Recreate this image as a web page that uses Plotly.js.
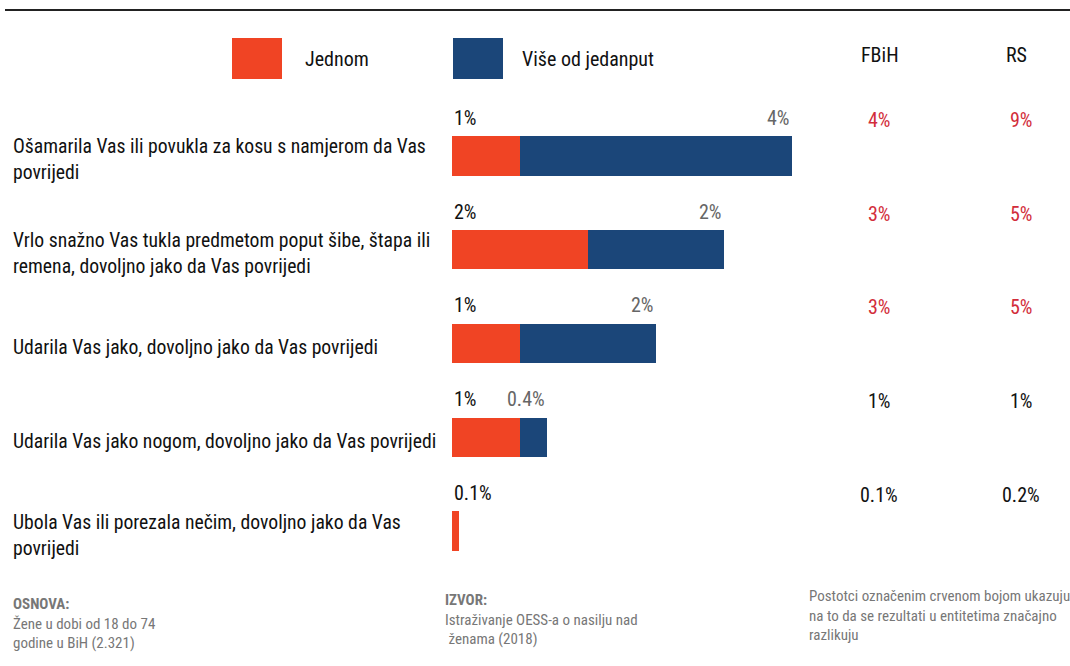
<!DOCTYPE html>
<html>
<head>
<meta charset="utf-8">
<script src="https://cdn.plot.ly/plotly-3.0.1.min.js"></script>
<style>
html,body{margin:0;padding:0;background:#fff;}
#chart{width:1070px;height:666px;}
</style>
</head>
<body>
<div id="chart"></div>
<script>
// ---- data ----
var categories = [
  "Ošamarila Vas ili povukla za kosu s namjerom da Vas<br>povrijedi",
  "Vrlo snažno Vas tukla predmetom poput šibe, štapa ili<br>remena, dovoljno jako da Vas povrijedi",
  "Udarila Vas jako, dovoljno jako da Vas povrijedi",
  "Udarila Vas jako nogom, dovoljno jako da Vas povrijedi",
  "Ubola Vas ili porezala nečim, dovoljno jako da Vas<br>povrijedi"
];
var jednom = [1, 2, 1, 1, 0.1];
var viseOdJednom = [4, 2, 2, 0.4, 0];
var jednomLabels = ["1%", "2%", "1%", "1%", "0.1%"];
var viseLabels = ["4%", "2%", "2%", "0.4%", ""];
var fbih = ["4%", "3%", "3%", "1%", "0.1%"];
var rs = ["9%", "5%", "5%", "1%", "0.2%"];
var significant = [true, true, true, false, false];
var seriesNames = ["Jednom", "Više od jedanput"];
var colHeaders = ["FBiH", "RS"];

// ---- layout helpers (pixel -> paper) ----
var W = 1070, H = 666;
var mL = 452, mR = 210, mT = 109, mB = 83;
var pw = W - mL - mR, ph = H - mT - mB;
function px(x){ return (x - mL) / pw; }
function py(y){ return (H - mB - y) / ph; }

var FONT = "'Roboto Condensed', 'Liberation Sans Narrow', 'DejaVu Sans Condensed', 'Roboto', sans-serif";
var ORANGE = "#f04424", BLUE = "#1b4679", RED = "#d22d3a";
var ids = categories.map(function(c, i){ return "c" + i; });

var traces = [
  {type: "bar", orientation: "h", y: ids, x: jednom, name: seriesNames[0],
   marker: {color: ORANGE}, width: 0.42, hoverinfo: "skip"},
  {type: "bar", orientation: "h", y: ids, x: viseOdJednom, name: seriesNames[1],
   marker: {color: BLUE}, width: 0.42, hoverinfo: "skip"}
];

var annotations = [];
var shapes = [];
categories.forEach(function(c, i){
  annotations.push({xref: "paper", yref: "y", x: px(11), y: ids[i], text: c,
    xanchor: "left", yanchor: "middle", align: "left", showarrow: false, yshift: -4,
    font: {family: FONT, size: 19.7, color: "#111"}});
  annotations.push({xref: "x", yref: "y", x: 0, y: ids[i], text: jednomLabels[i],
    xanchor: "left", yanchor: "middle", showarrow: false, yshift: 38,
    font: {family: FONT, size: 20, color: "#111"}});
  if (viseLabels[i]) {
    annotations.push({xref: "x", yref: "y", x: jednom[i] + viseOdJednom[i], y: ids[i], text: viseLabels[i],
      xanchor: "right", yanchor: "middle", showarrow: false, yshift: 38,
      font: {family: FONT, size: 20, color: "#666"}});
  }
  annotations.push({xref: "paper", yref: "y", x: px(879), y: ids[i], text: fbih[i],
    xanchor: "center", yanchor: "middle", showarrow: false, yshift: 36,
    font: {family: FONT, size: 20, color: significant[i] ? RED : "#111"}});
  annotations.push({xref: "paper", yref: "y", x: px(1021), y: ids[i], text: rs[i],
    xanchor: "center", yanchor: "middle", showarrow: false, yshift: 36,
    font: {family: FONT, size: 20, color: significant[i] ? RED : "#111"}});
});

// header row: legend + column titles
shapes.push({type: "line", xref: "paper", yref: "paper", x0: px(5), x1: px(1070), y0: py(10), y1: py(10),
  line: {color: "#222", width: 2}});
shapes.push({type: "rect", xref: "paper", yref: "paper", x0: px(232), x1: px(282), y0: py(38), y1: py(79),
  fillcolor: ORANGE, line: {width: 0}});
shapes.push({type: "rect", xref: "paper", yref: "paper", x0: px(453), x1: px(503), y0: py(38), y1: py(79),
  fillcolor: BLUE, line: {width: 0}});
annotations.push({xref: "paper", yref: "paper", x: px(303), y: py(59), text: seriesNames[0],
  xanchor: "left", yanchor: "middle", showarrow: false, font: {family: FONT, size: 20, color: "#111"}});
annotations.push({xref: "paper", yref: "paper", x: px(520), y: py(59), text: seriesNames[1],
  xanchor: "left", yanchor: "middle", showarrow: false, font: {family: FONT, size: 20, color: "#111"}});
annotations.push({xref: "paper", yref: "paper", x: px(880), y: py(55), text: colHeaders[0],
  xanchor: "center", yanchor: "middle", showarrow: false, font: {family: FONT, size: 20, color: "#111"}});
annotations.push({xref: "paper", yref: "paper", x: px(1016), y: py(55), text: colHeaders[1],
  xanchor: "center", yanchor: "middle", showarrow: false, font: {family: FONT, size: 20, color: "#111"}});

// footer
annotations.push({xref: "paper", yref: "paper", x: px(11), y: py(593), text: "<b>OSNOVA:</b><br>Žene u dobi od 18 do 74<br>godine u BiH (2.321)",
  xanchor: "left", yanchor: "top", align: "left", showarrow: false, font: {family: FONT, size: 15, color: "#777"}});
annotations.push({xref: "paper", yref: "paper", x: px(443), y: py(589), text: "<b>IZVOR:</b><br>Istraživanje OESS-a o nasilju nad<br> ženama (2018)",
  xanchor: "left", yanchor: "top", align: "left", showarrow: false, font: {family: FONT, size: 15, color: "#777"}});
annotations.push({xref: "paper", yref: "paper", x: px(807), y: py(585), text: "Postotci označenim crvenom bojom ukazuju<br>na to da se rezultati u entitetima značajno<br>razlikuju",
  xanchor: "left", yanchor: "top", align: "left", showarrow: false, font: {family: FONT, size: 15, color: "#777"}});

var layout = {
  width: W, height: H,
  margin: {l: mL, r: mR, t: mT, b: mB},
  paper_bgcolor: "#fff", plot_bgcolor: "#fff",
  barmode: "stack", showlegend: false,
  xaxis: {range: [0, pw / 68], visible: false, fixedrange: true},
  yaxis: {type: "category", autorange: "reversed", visible: false, fixedrange: true},
  annotations: annotations, shapes: shapes,
  font: {family: FONT}
};

Plotly.newPlot("chart", traces, layout, {displayModeBar: false, staticPlot: true});
</script>
</body>
</html>
